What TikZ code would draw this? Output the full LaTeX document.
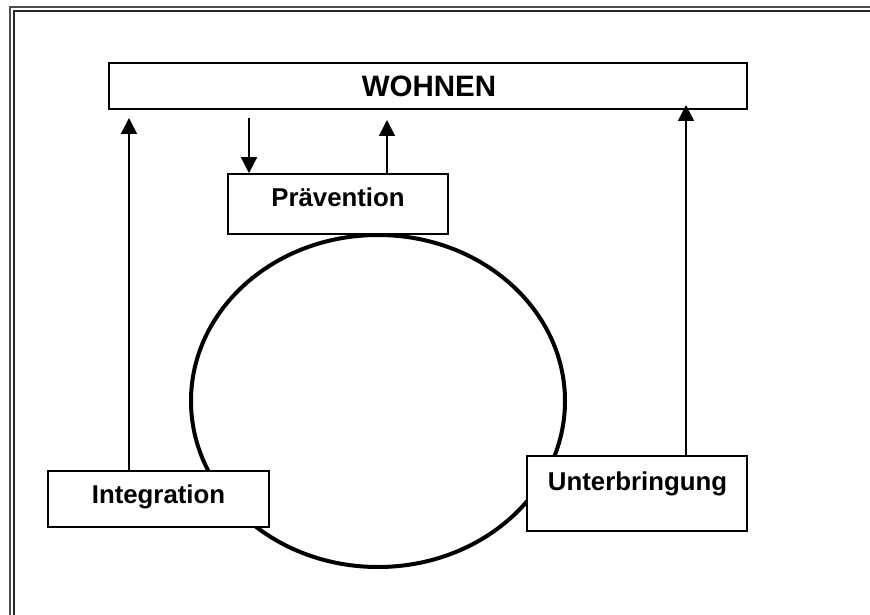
\documentclass[tikz,border=0pt]{standalone}
\usepackage{fontspec}
\setmainfont{Liberation Sans}
\usetikzlibrary{arrows.meta,shapes.geometric}
\tikzset{
  box/.style={draw=black, fill=white, line width=1.6pt, inner sep=0pt, rectangle},
  lbl/.style={anchor=base, inner sep=0pt, font=\bfseries\fontsize{25.8}{30}\selectfont},
  biglbl/.style={anchor=base, inner sep=0pt, font=\bfseries\fontsize{29.5}{34}\selectfont},
  arr/.style={draw=black, line width=1.5pt, -{Triangle[width=16pt,length=16pt]}},
  frameout/.style={draw=black!70, line width=2.2pt},
  framein/.style={draw=black!85, line width=1.4pt},
}
\begin{document}
\begin{tikzpicture}[x=1pt,y=-1pt]
\useasboundingbox (0,0) rectangle (870,615);
% frame (cut on right and bottom)
\draw[frameout] (10,640) -- (10,7) -- (900,7);
\draw[framein] (14,640) -- (14,11) -- (900,11);
% cycle
\node[draw=black, line width=4pt, ellipse, minimum width=374pt, minimum height=332pt, inner sep=0pt] (cycle) at (378,401) {};
% boxes
\node[box, minimum width=638pt, minimum height=46pt] (wohnen) at (428,86) {};
\node[biglbl] (twohnen) at (429,97) {WOHNEN};
\node[box, minimum width=220pt, minimum height=60pt] (praev) at (338,204) {};
\node[lbl] (tpraev) at (338,206) {Prävention};
\node[box, minimum width=221pt, minimum height=56pt] (integ) at (158.5,499) {};
\node[lbl] (tinteg) at (158.5,503) {Integration};
\node[box, minimum width=220pt, minimum height=75pt] (unter) at (637,493.5) {};
\node[lbl] (tunter) at (637.5,490) {Unterbringung};
% arrow ends
\coordinate (eInteg) at (129,118);
\coordinate (eUnter) at (686,105);
\coordinate (ePraevUp) at (387,120);
\coordinate (sPraevDown) at (249,118);
% arrows
\draw[arr] (integ.north -| eInteg) -- (eInteg);
\draw[arr] (unter.north -| eUnter) -- (eUnter);
\draw[arr] (praev.north -| ePraevUp) -- (ePraevUp);
\draw[arr] (sPraevDown) -- (praev.north -| sPraevDown);
\end{tikzpicture}
\end{document}
